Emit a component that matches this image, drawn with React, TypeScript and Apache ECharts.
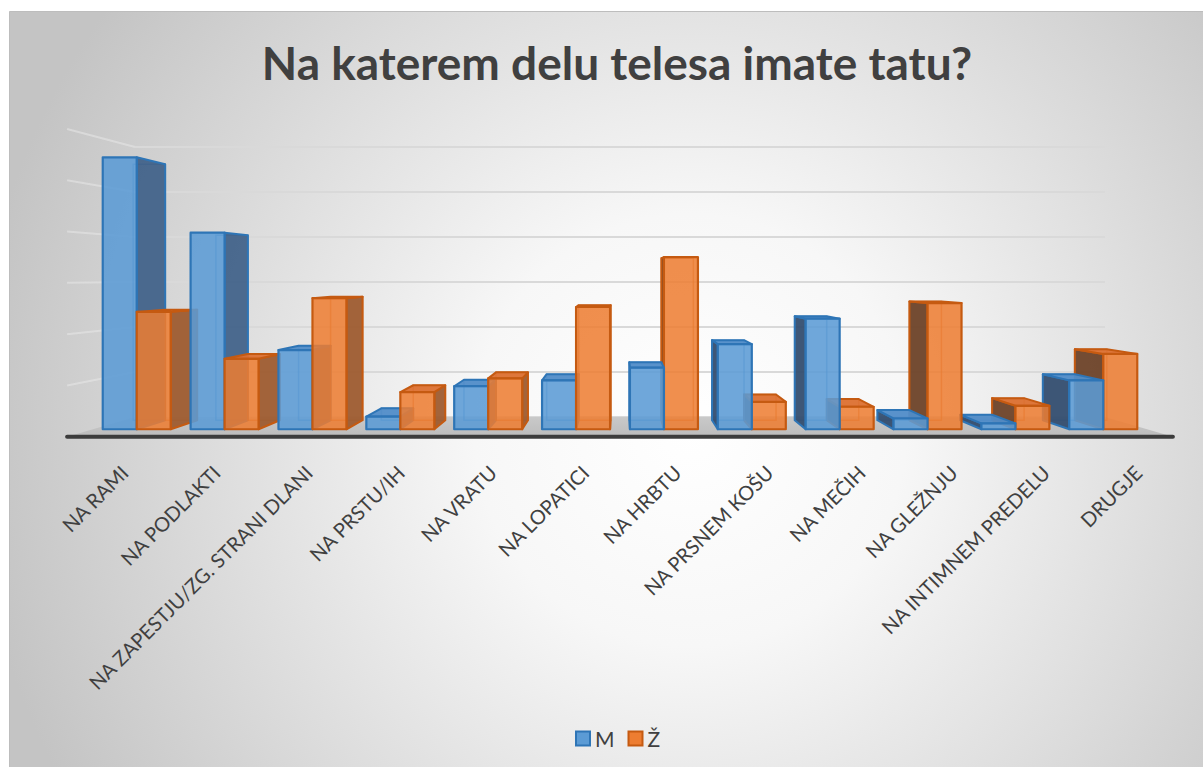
import React, { useEffect, useRef } from 'react';
import * as echarts from 'echarts';

// ---- data ----
const categories = [
  'NA RAMI',
  'NA PODLAKTI',
  'NA ZAPESTJU/ZG. STRANI DLANI',
  'NA PRSTU/IH',
  'NA VRATU',
  'NA LOPATICI',
  'NA HRBTU',
  'NA PRSNEM KOŠU',
  'NA MEČIH',
  'NA GLEŽNJU',
  'NA INTIMNEM PREDELU',
  'DRUGJE',
];
const seriesNames = ['M', 'Ž'];
const valuesM = [27.8, 20.1, 8.1, 1.3, 4.4, 5.0, 6.3, 8.7, 11.3, 1.1, 0.6, 5.0];
const valuesZ = [12.0, 7.2, 13.4, 3.8, 5.2, 12.5, 17.6, 2.8, 2.3, 12.9, 2.4, 7.7];
const Y_MAX = 30;
const Y_INTERVAL = 5;
const TITLE = 'Na katerem delu telesa imate tatu?';

// ---- 3D look (perspective) ----
const VP_VALUE = 15.67; // eye height in axis units
const FRONT = 1.087; // bar front plane relative to back wall
const BACK = 1.023; // bar back plane
const FLOOR = 1.14; // floor front edge
const BAR_FRAC = 0.387;

const COLORS = [
  {
    front: 'rgba(91,155,213,0.88)',
    edge: '#2e75b6',
    sideR: 'rgba(62,96,136,0.92)',
    sideL: 'rgba(52,78,112,0.95)',
    top: 'rgba(80,140,200,0.95)',
  },
  {
    front: 'rgba(237,125,49,0.86)',
    edge: '#c55a11',
    sideR: 'rgba(158,92,48,0.95)',
    sideL: 'rgba(112,70,44,0.97)',
    top: 'rgba(220,112,48,0.95)',
  },
];

const projector = (params: any, api: any) => {
  const cs = params.coordSys;
  const vpx = cs.x + cs.width / 2;
  const vpy = api.coord([0, VP_VALUE])[1];
  const P = (x: number, y: number, f: number) => [vpx + (x - vpx) * f, vpy + (y - vpy) * f];
  return { vpx, vpy, P, cs };
};

const renderBar = (params: any, api: any) => {
  const { vpx, vpy, P } = projector(params, api);
  const si = params.seriesName === seriesNames[0] ? 0 : 1;
  const i = api.value(0);
  const v = api.value(1);
  const [cx, by] = api.coord([i, 0]);
  const ty = api.coord([i, v])[1];
  const w = api.size([1, 0])[0] * BAR_FRAC;
  const x0 = si === 0 ? cx - w : cx;
  const x1 = x0 + w;
  const f = [P(x0, ty, FRONT), P(x1, ty, FRONT), P(x1, by, FRONT), P(x0, by, FRONT)];
  const b = [P(x0, ty, BACK), P(x1, ty, BACK), P(x1, by, BACK), P(x0, by, BACK)];
  const c = COLORS[si];
  const dist = Math.abs((f[0][0] + f[1][0]) / 2 - vpx);
  const base = Math.round((2000 - dist) * 10);
  const children: any[] = [];
  children.push({
    type: 'polygon',
    shape: { points: b },
    style: { fill: 'none', stroke: c.edge, lineWidth: 1.5, opacity: 0.55 },
    z2: base,
  });
  if (f[1][0] < vpx) {
    children.push({
      type: 'polygon',
      shape: { points: [f[1], b[1], b[2], f[2]] },
      style: { fill: c.sideR, stroke: c.edge, lineWidth: 2, lineJoin: 'round' },
      z2: base + 1,
    });
  }
  if (f[0][0] > vpx) {
    children.push({
      type: 'polygon',
      shape: { points: [f[0], b[0], b[3], f[3]] },
      style: { fill: c.sideL, stroke: c.edge, lineWidth: 2, lineJoin: 'round' },
      z2: base + 1,
    });
  }
  if (f[0][1] > vpy) {
    children.push({
      type: 'polygon',
      shape: { points: [f[0], f[1], b[1], b[0]] },
      style: { fill: c.top, stroke: c.edge, lineWidth: 2, lineJoin: 'round' },
      z2: base + 2,
    });
  }
  children.push({
    type: 'polygon',
    shape: { points: f },
    style: { fill: c.front, stroke: c.edge, lineWidth: 2.2, lineJoin: 'round' },
    z2: base + 3,
  });
  return { type: 'group', children };
};

const renderDecor = (params: any, api: any) => {
  const { P, cs } = projector(params, api);
  const by = api.coord([0, 0])[1];
  const xl = cs.x;
  const xr = cs.x + cs.width;
  const children: any[] = [];
  for (let v = Y_INTERVAL; v <= Y_MAX; v += Y_INTERVAL) {
    const y = api.coord([0, v])[1];
    const p = P(xl, y, FLOOR);
    children.push({
      type: 'line',
      shape: { x1: xl, y1: y, x2: p[0], y2: p[1] },
      style: { stroke: 'rgba(232,232,232,0.55)', lineWidth: 2 },
    });
  }
  const fl = P(xl, by, FLOOR);
  const fr = P(xr, by, FLOOR);
  children.push({
    type: 'polygon',
    shape: { points: [[xl, by], [xr, by], fr, fl] },
    style: {
      fill: new echarts.graphic.LinearGradient(0, 0, 0, 1, [
        { offset: 0, color: '#c9c9c9' },
        { offset: 1, color: '#bcbcbc' },
      ]),
    },
  });
  children.push({
    type: 'line',
    shape: { x1: fl[0], y1: fl[1], x2: fr[0], y2: fr[1] },
    style: { stroke: '#3c3c3c', lineWidth: 4, lineCap: 'round' },
  });
  return { type: 'group', children };
};

const renderLabel = (params: any, api: any) => {
  const { P } = projector(params, api);
  const i = api.value(0);
  const [cx, by] = api.coord([i, 0]);
  const p = P(cx, by, FLOOR);
  return {
    type: 'text',
    x: p[0] + 4,
    y: p[1] + 25,
    rotation: Math.PI / 4,
    silent: true,
    style: {
      text: categories[i],
      align: 'right',
      verticalAlign: 'top',
      fill: '#404040',
      fontSize: 20,
      fontFamily: 'Lato',
    },
  };
};

export default function App() {
  const ref = useRef<HTMLDivElement>(null);
  useEffect(() => {
    const chart = echarts.init(ref.current!, null, { renderer: 'svg' });
    chart.setOption({
      animation: false,
      backgroundColor: '#ffffff',
      graphic: {
        z: -10,
        elements: [
          {
            type: 'rect',
            z: -10,
            silent: true,
            shape: { x: 9.5, y: 11.5, width: 1200, height: 760 },
            style: {
              fill: new echarts.graphic.RadialGradient(
                690,
                430,
                720,
                [
                  { offset: 0, color: '#ffffff' },
                  { offset: 0.3, color: '#f7f7f7' },
                  { offset: 1, color: '#c4c4c4' },
                ],
                true
              ),
              stroke: '#bdbdbd',
              lineWidth: 1,
            },
          },
        ],
      },
      title: {
        text: TITLE,
        left: 612,
        textAlign: 'center',
        top: 34,
        textStyle: { fontFamily: 'Lato', fontWeight: 'bold', fontSize: 46, color: '#404040' },
      },
      legend: {
        data: [
          { name: seriesNames[0], icon: 'rect', itemStyle: { color: '#5b9bd5', borderColor: '#2e75b6', borderWidth: 2 } },
          { name: seriesNames[1], icon: 'rect', itemStyle: { color: '#ed7d31', borderColor: '#c55a11', borderWidth: 2 } },
        ],
        left: 570,
        top: 723,
        itemWidth: 14,
        itemHeight: 14,
        itemGap: 13,
        textStyle: { fontFamily: 'Lato', fontSize: 21, color: '#404040' },
      },
      grid: { left: 135, right: 98, top: 147, bottom: 350 },
      xAxis: {
        type: 'category',
        data: categories,
        axisLine: { show: false },
        axisTick: { show: false },
        axisLabel: { show: false },
      },
      yAxis: {
        type: 'value',
        min: 0,
        max: Y_MAX,
        interval: Y_INTERVAL,
        axisLine: { show: false },
        axisTick: { show: false },
        axisLabel: { show: false },
        splitLine: { lineStyle: { color: '#d9d9d9', width: 2 } },
      },
      series: [
        {
          type: 'custom',
          name: 'floor',
          z: 1,
          silent: true,
          renderItem: renderDecor,
          data: [[0, 0]],
        },
        {
          type: 'custom',
          name: seriesNames[0],
          z: 2,
          itemStyle: { color: '#5b9bd5' },
          renderItem: renderBar,
          data: valuesM.map((v, i) => [i, v]),
        },
        {
          type: 'custom',
          name: seriesNames[1],
          z: 2,
          itemStyle: { color: '#ed7d31' },
          renderItem: renderBar,
          data: valuesZ.map((v, i) => [i, v]),
        },
        {
          type: 'custom',
          name: 'labels',
          z: 3,
          silent: true,
          renderItem: renderLabel,
          data: categories.map((_, i) => [i, 0]),
        },
      ],
    });
    return () => chart.dispose();
  }, []);
  return <div ref={ref} style={{ position: 'fixed', left: 0, top: 0, width: 1203, height: 767 }} />;
}
